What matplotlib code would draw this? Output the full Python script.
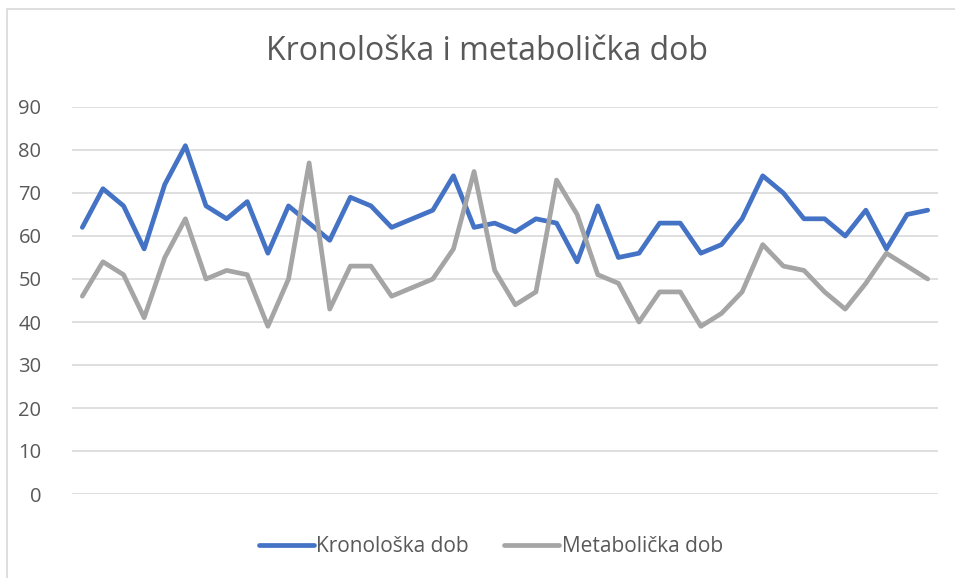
import matplotlib
matplotlib.use("Agg")
import matplotlib.pyplot as plt
from matplotlib.patches import Rectangle

plt.rcParams["font.family"] = ["Open Sans", "DejaVu Sans"]

TITLE = "Kronološka i metabolička dob"
LABELS = ["Kronološka dob", "Metabolička dob"]
Y_TICKS = [0, 10, 20, 30, 40, 50, 60, 70, 80, 90]

kronoloska = [62, 71, 67, 57, 72, 81, 67, 64, 68, 56, 67, 63, 59, 69, 67, 62, 64, 66, 74, 62, 63,
              61, 64, 63, 54, 67, 55, 56, 63, 63, 56, 58, 64, 74, 70, 64, 64, 60, 66, 57, 65, 66]
metabolicka = [46, 54, 51, 41, 55, 64, 50, 52, 51, 39, 50, 77, 43, 53, 53, 46, 48, 50, 57, 75, 52,
               44, 47, 73, 65, 51, 49, 40, 47, 47, 39, 42, 47, 58, 53, 52, 47, 43, 49, 56, 53, 50]

COLORS = ["#4472C4", "#A5A5A5"]
TEXT = "#595959"

W, H = 955, 578
fig = plt.figure(figsize=(W / 100, H / 100), dpi=100)

# chart frame (cut off at right/bottom like the original screenshot)
fig.patches.append(Rectangle((7 / W, -0.1), 1.1, 1.1 - 9 / H,
                             transform=fig.transFigure, fill=False,
                             edgecolor="#D9D9D9", linewidth=1.2))

ax = fig.add_axes([72 / W, 84 / H, 866 / W, 387 / H])
x = range(len(kronoloska))
ax.plot(x, kronoloska, color=COLORS[0], linewidth=3.4, label=LABELS[0],
        solid_joinstyle="round", solid_capstyle="round")
ax.plot(x, metabolicka, color=COLORS[1], linewidth=3.4, label=LABELS[1],
        solid_joinstyle="round", solid_capstyle="round")

ax.set_xlim(-0.5, len(kronoloska) - 0.5)
ax.set_ylim(0, 90)
ax.set_yticks(Y_TICKS)
ax.set_xticks([])
ax.grid(axis="y", color="#D9D9D9", linewidth=1.2)
ax.set_axisbelow(True)
for s in ax.spines.values():
    s.set_visible(False)
ax.tick_params(axis="y", length=0, pad=22, labelsize=14.5, labelcolor=TEXT)

fig.text(487 / W, 1 - 52 / H, TITLE, ha="center", va="center",
         fontsize=23, color=TEXT)

leg = fig.legend(loc="center", bbox_to_anchor=(491 / W, 1 - 547 / H), ncol=2,
                 frameon=False, fontsize=15, handlelength=2.64,
                 handletextpad=0.12, columnspacing=1.7, labelcolor=TEXT)

fig.savefig("out.png", dpi=100)
